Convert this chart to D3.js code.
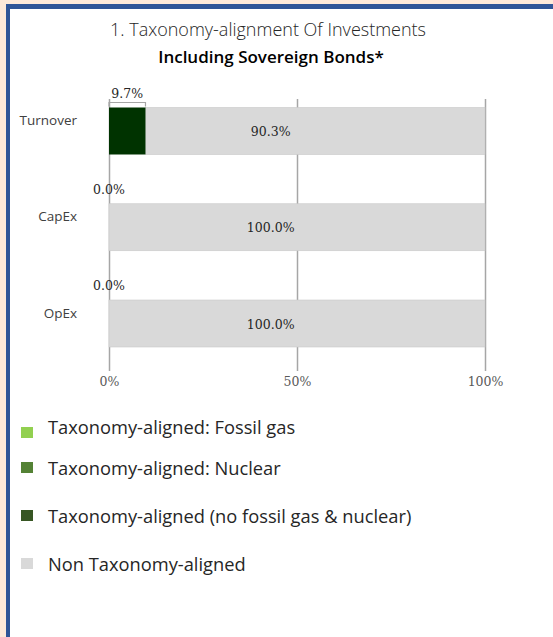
<!DOCTYPE html>
<html><head><meta charset="utf-8">
<script src="https://cdn.jsdelivr.net/npm/d3@7"></script>
<style>
html,body{margin:0;padding:0;background:#fde9d9;}
svg{display:block;}
</style></head>
<body>
<script>
// ---- data ----
const titleLine1 = "1. Taxonomy-alignment Of Investments";
const titleLine2 = "Including Sovereign Bonds*";
const categories = ["Turnover", "CapEx", "OpEx"];
const alignedValues = [9.7, 0.0, 0.0];        // Taxonomy-aligned (no fossil gas & nuclear)
const nonAlignedValues = [90.3, 100.0, 100.0]; // Non Taxonomy-aligned
const xTicks = [0, 50, 100];
const legendLabels = ["Taxonomy-aligned: Fossil gas", "Taxonomy-aligned: Nuclear",
  "Taxonomy-aligned (no fossil gas & nuclear)", "Non Taxonomy-aligned"];
const legendColors = ["#92d050", "#548235", "#375623", "#d9d9d9"];

// ---- layout ----
const W = 553, H = 637;
const svg = d3.select("body").append("svg").attr("width", W).attr("height", H);
svg.append("rect").attr("width", W).attr("height", H).attr("fill", "#fde9d9");
svg.append("rect").attr("x", 6).attr("y", 4).attr("width", W - 6).attr("height", H - 4).attr("fill", "#2f5597");
svg.append("rect").attr("x", 10).attr("y", 9).attr("width", W - 10).attr("height", H - 9).attr("fill", "#ffffff");

const x = d3.scaleLinear().domain([0, 100]).range([109, 485]);
const y = d3.scalePoint().domain(categories).range([131, 323.5]);
const barH = 47;
const gridTop = 99, gridBottom = 371;

// title
svg.append("text").attr("x", 268).attr("y", 36).attr("text-anchor", "middle")
  .attr("font-family", "'Open Sans', sans-serif").attr("font-weight", 300).attr("font-size", 18)
  .attr("fill", "#262626").text(titleLine1);
svg.append("text").attr("x", 271).attr("y", 63).attr("text-anchor", "middle")
  .attr("font-family", "'Open Sans', sans-serif").attr("font-weight", 600).attr("font-size", 17)
  .attr("fill", "#000").text(titleLine2);

// grid lines via axis
const axis = d3.axisBottom(x).tickValues(xTicks).tickFormat(d => d + "%")
  .tickSizeInner(-(gridBottom - gridTop)).tickSizeOuter(0).tickPadding(0);
const gAxis = svg.append("g").attr("transform", `translate(0,${gridBottom})`).call(axis);
gAxis.select(".domain").remove();
gAxis.selectAll(".tick line").attr("stroke", "#a6a6a6").attr("stroke-width", 1.5);
gAxis.selectAll(".tick text").attr("y", 15).attr("dy", 0)
  .attr("font-family", "'DejaVu Serif', serif").attr("font-size", 12.5).attr("fill", "#595959");

// bars
const rows = categories.map((c, i) => ({cat: c, a: alignedValues[i], n: nonAlignedValues[i]}));
svg.append("g").selectAll("rect").data(rows).join("rect")
  .attr("x", d => x(d.a)).attr("width", d => x(d.a + d.n) - x(d.a))
  .attr("y", d => y(d.cat) - barH / 2).attr("height", barH)
  .attr("fill", "#d9d9d9").attr("stroke", "#c9c9c9").attr("stroke-width", 0.6);
svg.append("g").selectAll("rect").data(rows.filter(d => d.a > 0)).join("rect")
  .attr("x", x(0)).attr("width", d => x(d.a) - x(0))
  .attr("y", d => y(d.cat) - barH / 2).attr("height", barH)
  .attr("fill", "#003300");

// leader brackets for aligned labels
svg.append("g").selectAll("path").data(rows.filter(d => d.a > 0)).join("path")
  .attr("d", d => {
    const t = y(d.cat) - barH / 2;
    return `M${x(0)},${t - 1}V${t - 5}H${x(d.a)}V${t - 1}`;
  }).attr("fill", "none").attr("stroke", "#a6a6a6").attr("stroke-width", 1.2);

// labels
svg.append("g").selectAll("text").data(rows).join("text")
  .attr("x", d => (x(0) + x(d.a)) / 2).attr("y", d => y(d.cat) - barH / 2 - 10)
  .attr("text-anchor", "middle").attr("font-family", "'DejaVu Serif', serif").attr("font-size", 12.5)
  .attr("fill", "#262626").text(d => d.a.toFixed(1) + "%");
svg.append("g").selectAll("text").data(rows).join("text")
  .attr("x", x(43)).attr("y", d => y(d.cat) + 5)
  .attr("text-anchor", "middle").attr("font-family", "'DejaVu Serif', serif").attr("font-size", 12.5)
  .attr("fill", "#262626").text(d => d.n.toFixed(1) + "%");

// category labels
svg.append("g").selectAll("text").data(categories).join("text")
  .attr("x", 77).attr("y", d => y(d) - 6).attr("text-anchor", "end")
  .attr("font-family", "'Open Sans', sans-serif").attr("font-size", 13.5)
  .attr("fill", "#404040").text(d => d);

// legend
const legendSquareTop = [427, 462, 510, 558];
const legendBaseline = [434, 475, 523, 571];
const lg = svg.append("g").selectAll("g").data(legendLabels).join("g");
lg.append("rect").attr("x", 21).attr("y", (d, i) => legendSquareTop[i]).attr("width", 12).attr("height", 11)
  .attr("fill", (d, i) => legendColors[i]);
lg.append("text").attr("x", 48).attr("y", (d, i) => legendBaseline[i])
  .attr("font-family", "'Open Sans', sans-serif").attr("font-size", 18.3)
  .attr("fill", "#262626").text(d => d);
</script>
</body></html>
